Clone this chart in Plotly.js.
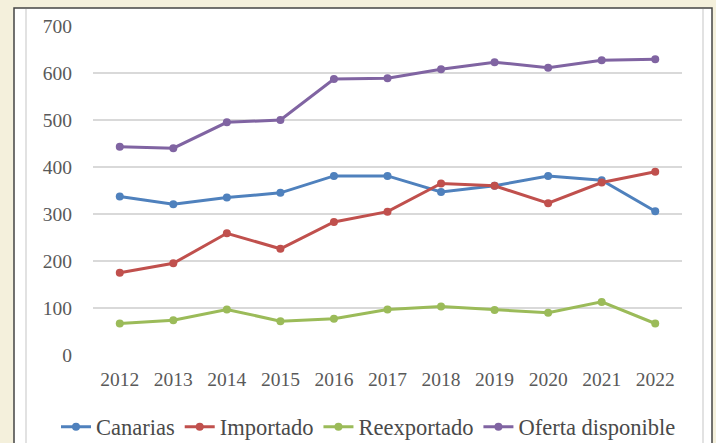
<!DOCTYPE html>
<html>
<head>
<meta charset="utf-8">
<script src="https://cdn.plot.ly/plotly-3.0.1.min.js"></script>
<style>
html,body{margin:0;padding:0;background:#f4f0dc;}
#chart{width:716px;height:443px;}
</style>
</head>
<body>
<div id="chart"></div>
<script>
const years = ['2012','2013','2014','2015','2016','2017','2018','2019','2020','2021','2022'];
const canarias = [337, 321, 335, 345, 381, 381, 347, 360, 381, 372, 306];
const importado = [175, 195, 259, 226, 283, 305, 365, 360, 323, 367, 390];
const reexportado = [67, 74, 97, 72, 77, 97, 103, 96, 90, 113, 67];
const oferta = [443, 440, 495, 500, 587, 589, 608, 623, 611, 627, 629];
const names = ['Canarias','Importado','Reexportado','Oferta disponible'];
const colors = ['#4f81bd','#c0504d','#9bbb59','#8064a2'];
const series = [canarias, importado, reexportado, oferta];

const traces = series.map((s, i) => ({
  x: years, y: s, name: names[i], type: 'scatter', mode: 'lines+markers',
  line: {color: colors[i], width: 3},
  marker: {color: colors[i], size: 8}
}));

const W = 589, H = 329, L = 93, T = 26;
const px = x => (x - L) / W;
const py = y => (T + H - y) / H;

const layout = {
  width: 716, height: 443,
  margin: {l: L, r: 716 - L - W, t: T, b: 443 - T - H, autoexpand: false},
  paper_bgcolor: '#f4f0dc',
  plot_bgcolor: 'rgba(0,0,0,0)',
  font: {family: 'Liberation Serif, Times New Roman, serif', size: 19, color: '#595959'},
  showlegend: true,
  legend: {orientation: 'h', x: px(56), xanchor: 'left', y: py(427), yanchor: 'middle',
           font: {size: 22.5, color: '#4a4a4a'}, bgcolor: 'rgba(0,0,0,0)', itemwidth: 30, tracegroupgap: 0},
  xaxis: {type: 'category', range: [-0.5, 10.5], showgrid: false, zeroline: false, showline: false,
          ticks: '', tickfont: {size: 19.5, color: '#595959'}, ticklabelstandoff: 10},
  yaxis: {range: [0, 700], dtick: 100, showgrid: true, gridcolor: '#d9d9d9', gridwidth: 1.5,
          zeroline: false, showline: false, ticks: '', tickfont: {size: 19.5, color: '#595959'},
          ticklabelstandoff: 20},
  shapes: [
    {type: 'rect', xref: 'paper', yref: 'paper', x0: px(14), x1: px(712), y0: py(460), y1: py(8),
     fillcolor: '#ffffff', line: {color: '#444444', width: 1.5}, layer: 'below'},
    {type: 'line', xref: 'paper', yref: 'paper', x0: px(26), x1: px(26), y0: py(460), y1: py(9),
     line: {color: '#d9d9d9', width: 1.5}, layer: 'below'},
    {type: 'line', xref: 'paper', yref: 'paper', x0: px(703), x1: px(703), y0: py(460), y1: py(9),
     line: {color: '#d9d9d9', width: 1.5}, layer: 'below'}
  ]
};

Plotly.newPlot('chart', traces, layout, {displayModeBar: false, staticPlot: true});
</script>
</body>
</html>
